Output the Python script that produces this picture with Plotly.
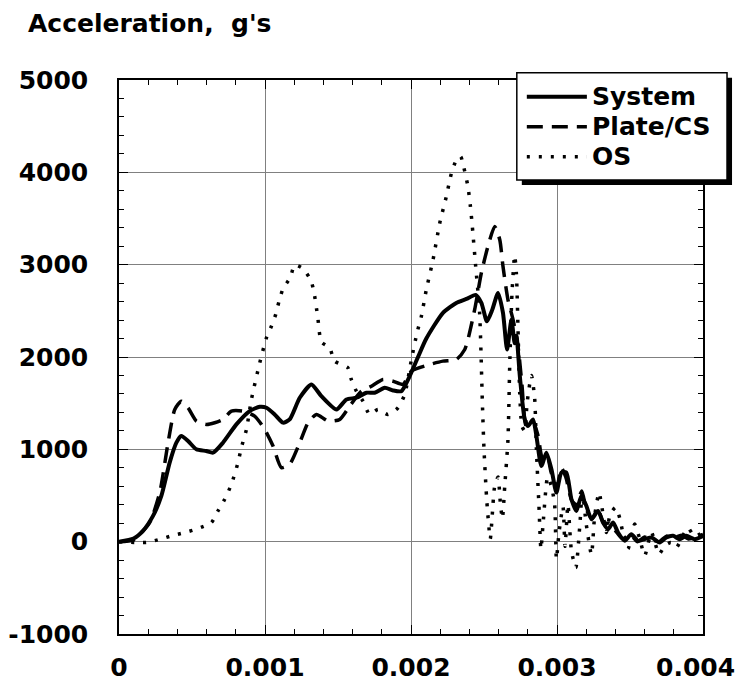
import plotly.graph_objects as go

# ---------------- data ----------------
sys_t = [0, 0.0001, 0.000164, 0.000233, 0.00029, 0.000347, 0.000393, 0.000427, 0.000473, 0.00053,
         0.000598, 0.000644, 0.000712, 0.000804, 0.000895, 0.000964, 0.00101, 0.001066, 0.001123, 0.001169,
         0.001238, 0.001318, 0.001386, 0.001489, 0.001558, 0.001626, 0.001695, 0.001751, 0.00182, 0.001877,
         0.001934, 0.001991, 0.002048, 0.002105, 0.002219, 0.00231, 0.002379, 0.002443, 0.002482, 0.00252,
         0.002557, 0.002596, 0.00263, 0.002658, 0.002688, 0.00271, 0.002722, 0.002745, 0.002779, 0.002801,
         0.002836, 0.002859, 0.002893, 0.002927, 0.002962, 0.002996, 0.00303, 0.003064, 0.003099, 0.003133,
         0.003167, 0.003201, 0.003236, 0.003281, 0.003315, 0.00335, 0.003384, 0.003418, 0.003464, 0.003509,
         0.003555, 0.003601, 0.003647, 0.003703, 0.003749, 0.003795, 0.00384, 0.003886, 0.003943, 0.004]
sys_a = [0, 35, 117, 279, 495, 856, 1072, 1144, 1090, 1000,
         982, 964, 1072, 1270, 1414, 1461, 1450, 1378, 1289, 1324,
         1559, 1703, 1576, 1432, 1540, 1559, 1613, 1613, 1667, 1638,
         1630, 1793, 2000, 2200, 2478, 2586, 2629, 2672, 2586, 2387,
         2513, 2694, 2478, 2080, 2405, 2150, 2230, 1800, 1324, 1252,
         1324, 1144, 819, 964, 784, 532, 748, 748, 459, 333,
         495, 387, 243, 333, 208, 135, 208, 99, 9, 81,
         9, 27, 45, -9, 45, 63, 27, 63, 27, 60]

plate_t = [0, 0.0001, 0.00021, 0.000279, 0.000336, 0.000382, 0.000427, 0.000473, 0.00053, 0.000598,
           0.000655, 0.000712, 0.00077, 0.000849, 0.000929, 0.000998, 0.001055, 0.001112, 0.001169, 0.001238,
           0.001295, 0.001352, 0.001432, 0.001512, 0.00158, 0.00166, 0.001729, 0.001808, 0.001877, 0.001945,
           0.002003, 0.002128, 0.002219, 0.002311, 0.002368, 0.00239, 0.002436, 0.002482, 0.002527, 0.002573,
           0.002608, 0.00263, 0.002664, 0.002699, 0.002733, 0.00276, 0.00279, 0.002836, 0.00287, 0.0029,
           0.00293, 0.00296, 0.003, 0.00303, 0.00306, 0.0031, 0.00313, 0.00317, 0.0032, 0.00324,
           0.00328, 0.00332, 0.00336, 0.0034, 0.00345, 0.0035, 0.00355, 0.0036, 0.00365, 0.0037,
           0.00375, 0.0038, 0.00385, 0.0039, 0.00395, 0.004]
plate_a = [0, 20, 207, 532, 1072, 1432, 1522, 1450, 1306, 1270,
           1288, 1324, 1414, 1414, 1360, 1216, 1036, 802, 838, 1072,
           1288, 1378, 1306, 1324, 1468, 1630, 1684, 1757, 1738, 1703,
           1847, 1919, 1955, 1973, 2081, 2189, 2513, 2910, 3198, 3414,
           3270, 2982, 2622, 2405, 2117, 1700, 1250, 1300, 1150, 900,
           950, 750, 600, 800, 700, 450, 400, 550, 350, 250,
           350, 200, 200, 120, 30, 80, 0, 50, 20, 0,
           60, 40, 70, 30, 50, 80]

os_t = [0, 0.000188, 0.000267, 0.000359, 0.00045, 0.000541, 0.000633, 0.000678, 0.000724, 0.00077,
        0.000815, 0.000838, 0.000873, 0.000907, 0.000964, 0.00101, 0.001044, 0.001073, 0.001096, 0.001123,
        0.001174, 0.001203, 0.00126, 0.001315, 0.001336, 0.001361, 0.001386, 0.001443, 0.001477, 0.001568,
        0.001591, 0.001626, 0.001671, 0.001717, 0.001774, 0.001842, 0.001911, 0.001957, 0.002003, 0.002041,
        0.002071, 0.002105, 0.002151, 0.002197, 0.002242, 0.002277, 0.002311, 0.00234, 0.002363, 0.00239,
        0.002407, 0.00242, 0.002443, 0.00247, 0.002489, 0.0025, 0.00252, 0.002543, 0.002557, 0.002573,
        0.002596, 0.002612, 0.002626, 0.002642, 0.002664, 0.002676, 0.002692, 0.00271, 0.002722, 0.002733,
        0.002745, 0.00276, 0.002779, 0.002795, 0.002825, 0.002847, 0.002859, 0.002876, 0.00289, 0.002905,
        0.002936, 0.002962, 0.002984, 0.002996, 0.003014, 0.003041, 0.003055, 0.003075, 0.003099, 0.003129,
        0.003155, 0.003174, 0.003201, 0.003236, 0.003258, 0.003288, 0.003315, 0.003338, 0.003365, 0.003402,
        0.003429, 0.003464, 0.003486, 0.003532, 0.003565, 0.003601, 0.003647, 0.003699, 0.003738, 0.00378,
        0.003818, 0.00386, 0.003897, 0.00394, 0.004]
os_a = [0, -9, 20, 63, 99, 142, 207, 333, 459, 622,
        856, 1018, 1216, 1541, 1937, 2208, 2333, 2459, 2603, 2737,
        2863, 2997, 2957, 2827, 2697, 2435, 2164, 2099, 1955, 1883,
        1757, 1630, 1522, 1378, 1432, 1378, 1450, 1595, 1973, 2261,
        2441, 2730, 3054, 3451, 3738, 3991, 4135, 4171, 4045, 3846,
        3630, 3414, 2982, 2478, 1500, 1000, 423, 30, 300, 600,
        700, 420, 250, 600, 1100, 1900, 2700, 3100, 2900, 2300,
        1600, 1250, 1200, 1500, 1800, 1550, 1000, 400, -80, 200,
        700, 600, 400, -190, 100, 380, -50, 400, -100, -280,
        150, 530, 180, -140, 280, 530, 300, 100, 300, 370,
        260, 0, -80, 190, 40, -150, 100, -135, -45, -10,
        -63, 60, 150, 60, 100]

series_names = ["System", "Plate/CS", "OS"]
x_tickvals = [0, 0.001, 0.002, 0.003, 0.004]
x_ticktext = ["0", "0.001", "0.002", "0.003", "0.004"]
y_tickvals = [-1000, 0, 1000, 2000, 3000, 4000, 5000]
y_ticktext = ["-1000", "0", "1000", "2000", "3000", "4000", "5000"]

# ---------------- styling ----------------
FONT = dict(family="DejaVu Sans", size=25, color="black", weight="bold")
L, R, T, B = 119.3, 702.7, 80.0, 634.0


def px(xp):
    return (xp - L) / (R - L)


def py(yp):
    return (B - yp) / (B - T)


styles = [dict(width=4, dash="solid"),
          dict(width=3.5, dash="16px,9px"),
          dict(width=3.5, dash="3px,9px")]

fig = go.Figure()
for name, t, a, st in zip(series_names, [sys_t, plate_t, os_t], [sys_a, plate_a, os_a], styles):
    fig.add_trace(go.Scatter(x=t, y=a, mode="lines", name=name,
                             line=dict(color="black", width=st["width"], dash=st["dash"],
                                       shape="spline", smoothing=0.6),
                             showlegend=False))

axis_common = dict(showline=True, linecolor="black", linewidth=1.5, mirror="allticks",
                   ticks="inside", ticklen=9, tickcolor="black", tickwidth=1,
                   showgrid=True, gridcolor="#808080", gridwidth=1, zeroline=False,
                   tickmode="array", tickfont=FONT, automargin=False,
                   ticklabeloverflow="allow")

# the last x label sits on the right edge of the page; it is placed as an
# annotation, right-aligned, so that it is not cut off
fig.update_xaxes(range=[-1e-9, 0.004 + 1e-9], tickvals=x_tickvals,
                 ticktext=x_ticktext[:-1] + [""],
                 ticklabelstandoff=10,
                 minor=dict(tickmode="linear", tick0=0, dtick=0.0002, ticks="inside",
                            ticklen=5, tickcolor="black", tickwidth=1, showgrid=False),
                 **axis_common)
fig.update_yaxes(range=[-1000, 5000], tickvals=y_tickvals, ticktext=y_ticktext,
                 ticklabelstandoff=24,
                 minor=dict(tickmode="linear", tick0=0, dtick=200, ticks="inside",
                            ticklen=5, tickcolor="black", tickwidth=1, showgrid=False),
                 **axis_common)

# legend drawn as shapes + text
shapes = []
lg_l, lg_t, lg_r, lg_b = 516.7, 72.7, 726.7, 180.0
shapes.append(dict(type="rect", xref="paper", yref="paper", layer="above",
                   x0=px(lg_l + 5), x1=px(lg_r + 5), y0=py(lg_b + 5), y1=py(lg_t + 5),
                   fillcolor="black", line=dict(width=0)))
shapes.append(dict(type="rect", xref="paper", yref="paper", layer="above",
                   x0=px(lg_l), x1=px(lg_r), y0=py(lg_b), y1=py(lg_t),
                   fillcolor="white", line=dict(color="black", width=1.5)))
annotations = []
row_y = [96.7, 126.7, 156.7]
for name, st, ry in zip(series_names, styles, row_y):
    shapes.append(dict(type="line", xref="paper", yref="paper", layer="above",
                       x0=px(526.7), x1=px(586.7), y0=py(ry), y1=py(ry),
                       line=dict(color="black", width=st["width"], dash=st["dash"])))
    annotations.append(dict(text=name, xref="paper", yref="paper", x=px(590), y=py(ry),
                            xanchor="left", yanchor="middle", showarrow=False, font=FONT))

annotations.append(dict(text="Acceleration,\u00a0 g's", xref="paper", yref="paper",
                        x=px(26), y=py(24), xanchor="left", yanchor="middle",
                        showarrow=False, font=FONT))
annotations.append(dict(text=x_ticktext[-1], xref="paper", yref="paper",
                        x=px(737), y=py(667), xanchor="right", yanchor="middle",
                        showarrow=False, font=FONT))

fig.update_layout(width=740, height=683, margin=dict(l=119.3, r=37.3, t=80, b=49),
                  paper_bgcolor="white", plot_bgcolor="white",
                  shapes=shapes, annotations=annotations, showlegend=False)

fig.write_html("out.html", config={"displayModeBar": False},
               post_script="document.body.style.margin='0';document.body.style.padding='0';"
                           "document.body.style.overflow='hidden';")
